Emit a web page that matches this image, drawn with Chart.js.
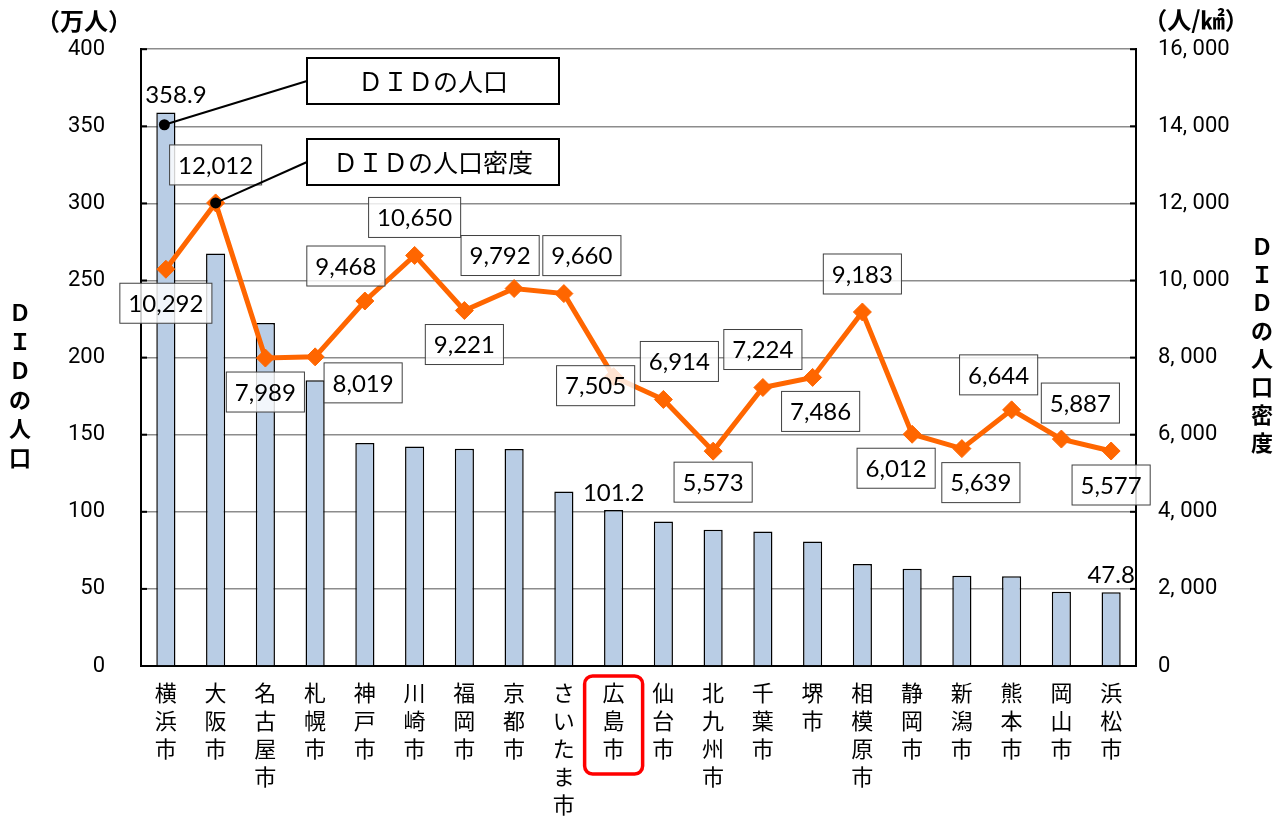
<!DOCTYPE html>
<html lang="ja">
<head>
<meta charset="utf-8">
<script src="https://cdn.jsdelivr.net/npm/chart.js@4.4.1/dist/chart.umd.min.js"></script>
<style>
  html, body { margin: 0; padding: 0; background: #fff; }
  #wrap { width: 1288px; height: 816px; }
</style>
</head>
<body>
<div id="wrap"><canvas id="chart" width="1288" height="816"></canvas></div>
<script>
// categories
const cities = ['横浜市', '大阪市', '名古屋市', '札幌市', '神戸市', '川崎市', '福岡市', '京都市', 'さいたま市', '広島市',
  '仙台市', '北九州市', '千葉市', '堺市', '相模原市', '静岡市', '新潟市', '熊本市', '岡山市', '浜松市'];

// DIDの人口 (万人)
const didPopulation = [358.9, 267.5, 222.5, 185.3, 144.6, 142.4, 140.9, 140.7, 113.2, 101.2,
  93.7, 88.3, 87.2, 80.7, 66.2, 63.0, 58.6, 58.2, 48.2, 47.8];

// DIDの人口密度 (人/km2)
const didDensity = [10292, 12012, 7989, 8019, 9468, 10650, 9221, 9792, 9660, 7505,
  6914, 5573, 7224, 7486, 9183, 6012, 5639, 6644, 5887, 5577];

// tick labels
const popTicks = [0, 50, 100, 150, 200, 250, 300, 350, 400];
const densityTicks = [0, 2000, 4000, 6000, 8000, 10000, 12000, 14000, 16000];

// bars that carry a value label
const labelledBars = [0, 9, 19];

// label box offsets from each density point (dx, dy in px)
const densityLabelPos = [
  [0, 34], [0, -38], [0, 34], [48, 26], [-19, -35], [0, -38], [0, 34], [-14, -33], [18, -38], [-18, 9],
  [16, -38], [0, 31], [0, -38], [8, 34], [0, -38], [-16, 34], [19, 34], [-13, -35], [19, -36], [0, 34]
];

const JP = '"Noto Sans CJK JP", sans-serif';

function fmtDensity(v) {
  return v.toLocaleString('en-US');
}

function stackText(ctx, text, x, y0, step) {
  [...text].forEach((ch, i) => ctx.fillText(ch, x, y0 + i * step));
}

// extra drawing: value boxes, callouts, titles
const decorations = {
  id: 'decorations',
  afterDatasetsDraw(chart) {
    const ctx = chart.ctx;
    const area = chart.chartArea;
    const yL = chart.scales.y;
    const yR = chart.scales.y1;
    ctx.save();

    // small inside tick marks
    ctx.strokeStyle = '#000';
    ctx.lineWidth = 2;
    popTicks.forEach(v => {
      const py = yL.getPixelForValue(v);
      ctx.beginPath(); ctx.moveTo(area.left, py); ctx.lineTo(area.left + 6, py); ctx.stroke();
    });
    densityTicks.forEach(v => {
      const py = yR.getPixelForValue(v);
      ctx.beginPath(); ctx.moveTo(area.right - 6, py); ctx.lineTo(area.right, py); ctx.stroke();
    });

    // density value boxes
    const lineMeta = chart.getDatasetMeta(1);
    ctx.font = '24px Lato';
    ctx.textAlign = 'center';
    ctx.textBaseline = 'middle';
    lineMeta.data.forEach((pt, i) => {
      const txt = fmtDensity(didDensity[i]);
      const w = ctx.measureText(txt).width + 17;
      const h = 40;
      const cx = pt.x + densityLabelPos[i][0];
      const cy = pt.y + densityLabelPos[i][1];
      ctx.fillStyle = 'rgba(255,255,255,0.82)';
      ctx.fillRect(cx - w / 2, cy - h / 2, w, h);
      ctx.strokeStyle = '#404040';
      ctx.lineWidth = 1;
      ctx.strokeRect(cx - w / 2, cy - h / 2, w, h);
      ctx.fillStyle = '#000';
      ctx.fillText(txt, cx, cy + 1);
    });

    // bar value labels
    const barMeta = chart.getDatasetMeta(0);
    ctx.textBaseline = 'middle';
    labelledBars.forEach(i => {
      const b = barMeta.data[i];
      const dx = i === 0 ? 10 : 0;
      ctx.fillText(didPopulation[i].toFixed(1), b.x + dx, b.y - 17);
    });

    // callouts
    const calloutBox = (bx, by, bw, bh, text, ax, ay) => {
      ctx.strokeStyle = '#000';
      ctx.lineWidth = 2;
      ctx.beginPath(); ctx.moveTo(bx, by + bh / 2); ctx.lineTo(ax, ay); ctx.stroke();
      ctx.fillStyle = '#000';
      ctx.beginPath(); ctx.arc(ax, ay, 5.5, 0, Math.PI * 2); ctx.fill();
      ctx.fillStyle = '#fff';
      ctx.fillRect(bx, by, bw, bh);
      ctx.lineWidth = 2;
      ctx.strokeRect(bx, by, bw, bh);
      ctx.fillStyle = '#000';
      ctx.font = '25px ' + JP;
      ctx.textAlign = 'center';
      ctx.textBaseline = 'middle';
      ctx.fillText(text, bx + bw / 2, by + bh / 2);
    };
    calloutBox(307, 58, 252, 46, 'ＤＩＤの人口', barMeta.data[0].x - 1.5, yL.getPixelForValue(351));
    calloutBox(307, 139, 252, 46, 'ＤＩＤの人口密度', lineMeta.data[1].x, lineMeta.data[1].y);

    ctx.restore();
  },
  afterDraw(chart) {
    const ctx = chart.ctx;
    const area = chart.chartArea;
    ctx.save();
    ctx.fillStyle = '#000';
    ctx.font = 'bold 24px ' + JP;
    ctx.textAlign = 'center';
    ctx.textBaseline = 'middle';
    ctx.fillText('（万人）', 84, 21);
    ctx.fillText('（人/㎢）', 1196, 20);

    ctx.font = 'bold 22px ' + JP;
    stackText(ctx, 'ＤＩＤの人口', 20, 313, 29);
    stackText(ctx, 'ＤＩＤの人口密度', 1262, 247, 28);

    // red frame around 広島市
    const xs = chart.scales.x;
    const cx = xs.getPixelForValue(9);
    const w = 58, top = area.bottom + 10, h = 98, r = 8;
    ctx.strokeStyle = '#ff0000';
    ctx.lineWidth = 3.5;
    ctx.beginPath();
    ctx.roundRect(cx - w / 2, top, w, h, r);
    ctx.stroke();
    ctx.restore();
  }
};

new Chart(document.getElementById('chart'), {
  data: {
    labels: cities.map(c => [...c]),
    datasets: [{
      type: 'bar',
      label: 'DIDの人口',
      data: didPopulation,
      yAxisID: 'y',
      backgroundColor: '#b9cde5',
      borderColor: '#000',
      borderWidth: 1.5,
      barPercentage: 0.385,
      categoryPercentage: 1,
      order: 2
    }, {
      type: 'line',
      label: 'DIDの人口密度',
      data: didDensity,
      yAxisID: 'y1',
      borderColor: '#ff6600',
      backgroundColor: '#ff6600',
      borderWidth: 5,
      pointStyle: 'rectRot',
      pointRadius: 9,
      pointBorderWidth: 1,
      tension: 0,
      order: 1
    }]
  },
  options: {
    responsive: false,
    animation: false,
    layout: { padding: { top: 48, left: 0, right: 0, bottom: 0 } },
    plugins: {
      legend: { display: false },
      tooltip: { enabled: false }
    },
    scales: {
      x: {
        grid: { display: false, drawTicks: false },
        border: { color: '#000', width: 2 },
        ticks: {
          autoSkip: false, maxRotation: 0, minRotation: 0, padding: 13,
          color: '#000',
          font: { family: JP, size: 22, lineHeight: 1.27 }
        },
        afterFit: s => { s.height = 150; }
      },
      y: {
        position: 'left',
        min: 0, max: 400,
        afterBuildTicks: s => { s.ticks = popTicks.map(v => ({ value: v })); },
        grid: { color: '#8c8c8c', lineWidth: 1.5, drawTicks: false },
        border: { color: '#000', width: 2 },
        ticks: {
          padding: 36, color: '#000',
          font: { family: 'Roboto', size: 22 }
        },
        afterFit: s => { s.width = 141; }
      },
      y1: {
        position: 'right',
        min: 0, max: 16000,
        afterBuildTicks: s => { s.ticks = densityTicks.map(v => ({ value: v })); },
        grid: { display: false, drawTicks: false },
        border: { color: '#000', width: 2 },
        ticks: {
          padding: 22, color: '#000',
          font: { family: 'Roboto', size: 22 },
          callback: v => fmtDensity(v).replace(',', ', ')
        },
        afterFit: s => { s.width = 152; }
      }
    }
  },
  plugins: [decorations]
});
</script>
</body>
</html>
